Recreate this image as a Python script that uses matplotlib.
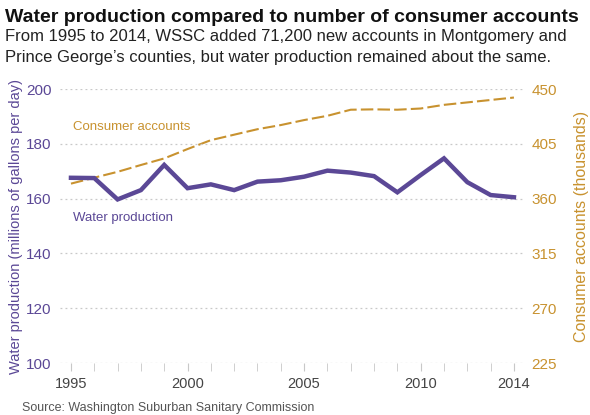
import matplotlib.pyplot as plt
import numpy as np

years = list(range(1995, 2015))
water = [167.6, 167.5, 159.7, 163.1, 172.3, 163.8, 165.2, 163.1, 166.2, 166.7,
         168.0, 170.2, 169.5, 168.2, 162.3, 168.6, 174.7, 166.0, 161.3, 160.5]
accounts = [372.3, 377.2, 382.0, 387.6, 393.0, 400.7, 408.0, 412.5, 417.0, 420.4,
            424.5, 428.0, 433.0, 433.3, 433.0, 434.0, 437.0, 439.0, 441.0, 443.0]
left_ticks = [100, 120, 140, 160, 180, 200]
right_ticks = [225, 270, 315, 360, 405, 450]
year_labels = [1995, 2000, 2005, 2010, 2014]

purple = "#5b4896"
gold = "#c8922f"
grid_c = "#c8c8c8"
plt.rcParams["font.family"] = ["Liberation Sans", "DejaVu Sans"]

fig = plt.figure(figsize=(5.9, 4.15), dpi=100)
ax = fig.add_axes((0.1017, 0.1253, 0.7848, 0.6602))
ax2 = ax.twinx()

ax.set_xlim(1994.53, 2014.39)
ax.set_ylim(100, 200)
ax2.set_ylim(225, 450)

# dotted horizontal grid at the left ticks
for t in left_ticks:
    ax.axhline(t, color=grid_c, lw=0.9, ls=(0, (1.5, 2.5)), zorder=0)

ax.plot(years, water, color=purple, lw=3.2, zorder=3, solid_joinstyle="miter")
ax2.plot(years, accounts, color=gold, lw=1.5, ls=(0, (6, 2)), zorder=2)
ax.set_zorder(ax2.get_zorder() + 1)
ax.patch.set_visible(False)

for a in (ax, ax2):
    for s in a.spines.values():
        s.set_visible(False)

ax.set_yticks(left_ticks)
ax.tick_params(axis="y", length=0, labelsize=11, labelcolor=purple, pad=6)
ax2.set_yticks(right_ticks)
ax2.tick_params(axis="y", length=0, labelsize=11, labelcolor=gold, pad=6)

ax.set_xticks(year_labels)
ax.set_xticks(years, minor=True)
ax.tick_params(axis="x", which="both", length=6, color=grid_c, labelsize=10.5,
               labelcolor="#444444", pad=4)

ax.set_ylabel("Water production (millions of gallons per day)", color=purple,
              fontsize=10.5, labelpad=2)
ax2.set_ylabel("Consumer accounts (thousands)", color=gold, fontsize=11.5, labelpad=12)

ax.text(1995.1, 186.1, "Consumer accounts", color=gold, fontsize=9.5, va="center")
ax.text(1995.1, 153.0, "Water production", color=purple, fontsize=9.5, va="center")

fig.text(0.008, 0.958, "Water production compared to number of consumer accounts",
         fontsize=14, fontweight="bold", va="center", color="#111111")
fig.text(0.008, 0.912, "From 1995 to 2014, WSSC added 71,200 new accounts in Montgomery and",
         fontsize=12, va="center", color="#222222")
fig.text(0.008, 0.862, "Prince George\u2019s counties, but water production remained about the same.",
         fontsize=12, va="center", color="#222222")
fig.text(0.037, 0.018, "Source: Washington Suburban Sanitary Commission",
         fontsize=9, va="center", color="#555555")

fig.savefig("out.png", dpi=100)
